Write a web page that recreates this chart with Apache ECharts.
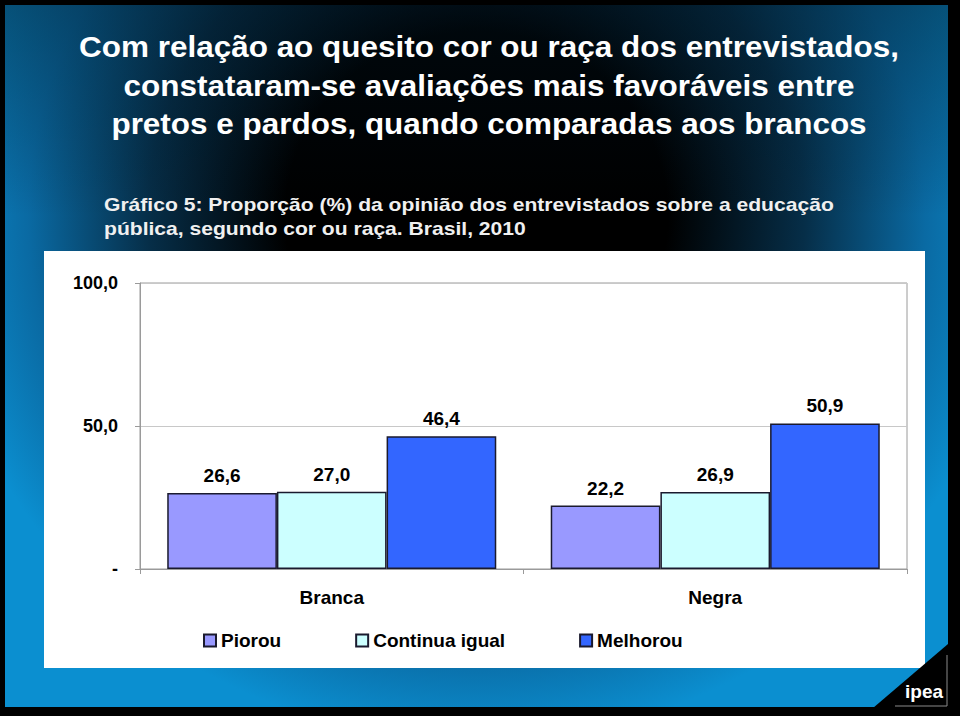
<!DOCTYPE html>
<html>
<head>
<meta charset="utf-8">
<script src="https://cdn.jsdelivr.net/npm/echarts@6/dist/echarts.min.js"></script>
<style>
html,body{margin:0;padding:0;background:#000;}
#bg{position:absolute;left:5px;top:5px;width:943px;height:702px;
background:
 linear-gradient(to bottom, rgba(0,18,30,0.45) 0%, rgba(0,0,0,0) 30%),
 radial-gradient(ellipse 58% 75% at 50% 30%, #000 0%, #000 35%, #062e48 60%, #0a6aa3 82%, #0b8fd0 100%);}
#chart{position:absolute;left:0;top:0;width:960px;height:716px;}
</style>
</head>
<body>
<div id="bg"></div>
<div id="chart"></div>
<script>
const categories = ['Branca', 'Negra'];
const seriesNames = ['Piorou', 'Continua igual', 'Melhorou'];
const piorou = [26.6, 22.2];
const continuaIgual = [27.0, 26.9];
const melhorou = [46.4, 50.9];
const yTicks = [0, 50, 100];

const titleLines = [
  'Com relação ao quesito cor ou raça dos entrevistados,',
  'constataram-se avaliações mais favoráveis entre',
  'pretos e pardos, quando comparadas aos brancos'
];
const subtitleLines = [
  'Gráfico 5: Proporção (%) da opinião dos entrevistados sobre a educação',
  'pública, segundo cor ou raça. Brasil, 2010'
];

const fmt = v => v === 0 ? '-' : v.toFixed(1).replace('.', ',');
const FONT = '"Liberation Sans", Arial, sans-serif';
const colors = ['#9999FF', '#CCFFFF', '#3366FF'];
const values = [piorou, continuaIgual, melhorou];

const chart = echarts.init(document.getElementById('chart'), null, {renderer: 'svg'});

const series = seriesNames.map((name, i) => ({
  name: name,
  type: 'bar',
  data: values[i],
  barGap: '0%',
  barCategoryGap: '14.2%',
  itemStyle: {color: colors[i], borderColor: '#1a1a2e', borderWidth: 1.5},
  label: {
    show: true, position: 'top', distance: 8,
    formatter: p => fmt(p.value),
    color: '#000', fontFamily: FONT, fontWeight: 'bold', fontSize: 19
  },
  emphasis: {disabled: true}
}));

chart.setOption({
  animation: false,
  backgroundColor: 'transparent',
  graphic: [
    {type: 'rect', shape: {x: 44, y: 251, width: 881, height: 417}, style: {fill: '#fff'}, z: -10},
    {type: 'polygon', shape: {points: [[948, 644], [948, 708], [873, 708]]}, style: {fill: '#000'}, z: -10},
    {type: 'polyline', shape: {points: [[947, 655], [947, 706], [895, 706]]}, style: {stroke: '#8a8a8a', lineWidth: 1, fill: null}, z: -9},
    {type: 'text', left: 905, top: 682, style: {text: 'ipea', fill: '#fff', font: 'bold 19px ' + FONT}, z: -8},
    {type: 'text', x: 489, y: 28, scaleX: 1.085, style: {x: 0, y: 0, text: titleLines.join('\n'), fill: '#fff', font: 'bold 29px ' + FONT, lineHeight: 38.5, align: 'center', verticalAlign: 'top'}},
    {type: 'text', x: 104, y: 193, scaleX: 1.172, style: {x: 0, y: 0, text: subtitleLines.join('\n'), fill: '#f0f0f0', font: 'bold 18px ' + FONT, lineHeight: 24, align: 'left', verticalAlign: 'top'}}
  ],
  grid: {left: 140, right: 53, top: 283, bottom: 147, show: true, borderColor: '#9a9a9a', borderWidth: 1, backgroundColor: 'transparent'},
  legend: {
    left: 203, top: 631, padding: 0,
    itemWidth: 12, itemHeight: 12, itemGap: 74,
    icon: 'rect',
    textStyle: {color: '#000', fontFamily: FONT, fontWeight: 'bold', fontSize: 19},
    data: seriesNames
  },
  xAxis: {
    type: 'category', data: categories,
    axisLine: {lineStyle: {color: '#9a9a9a'}},
    axisTick: {show: true, length: 5, lineStyle: {color: '#9a9a9a'}},
    axisLabel: {color: '#000', fontFamily: FONT, fontWeight: 'bold', fontSize: 19, margin: 19}
  },
  yAxis: {
    type: 'value', min: yTicks[0], max: yTicks[yTicks.length - 1], interval: 50,
    axisLine: {show: true, lineStyle: {color: '#9a9a9a'}},
    axisTick: {show: true, length: 5, lineStyle: {color: '#9a9a9a'}},
    splitLine: {show: true, lineStyle: {color: '#c8c8c8'}},
    axisLabel: {color: '#000', fontFamily: FONT, fontWeight: 'bold', fontSize: 18, margin: 22, formatter: v => fmt(v)}
  },
  series: series
});
</script>
</body>
</html>
